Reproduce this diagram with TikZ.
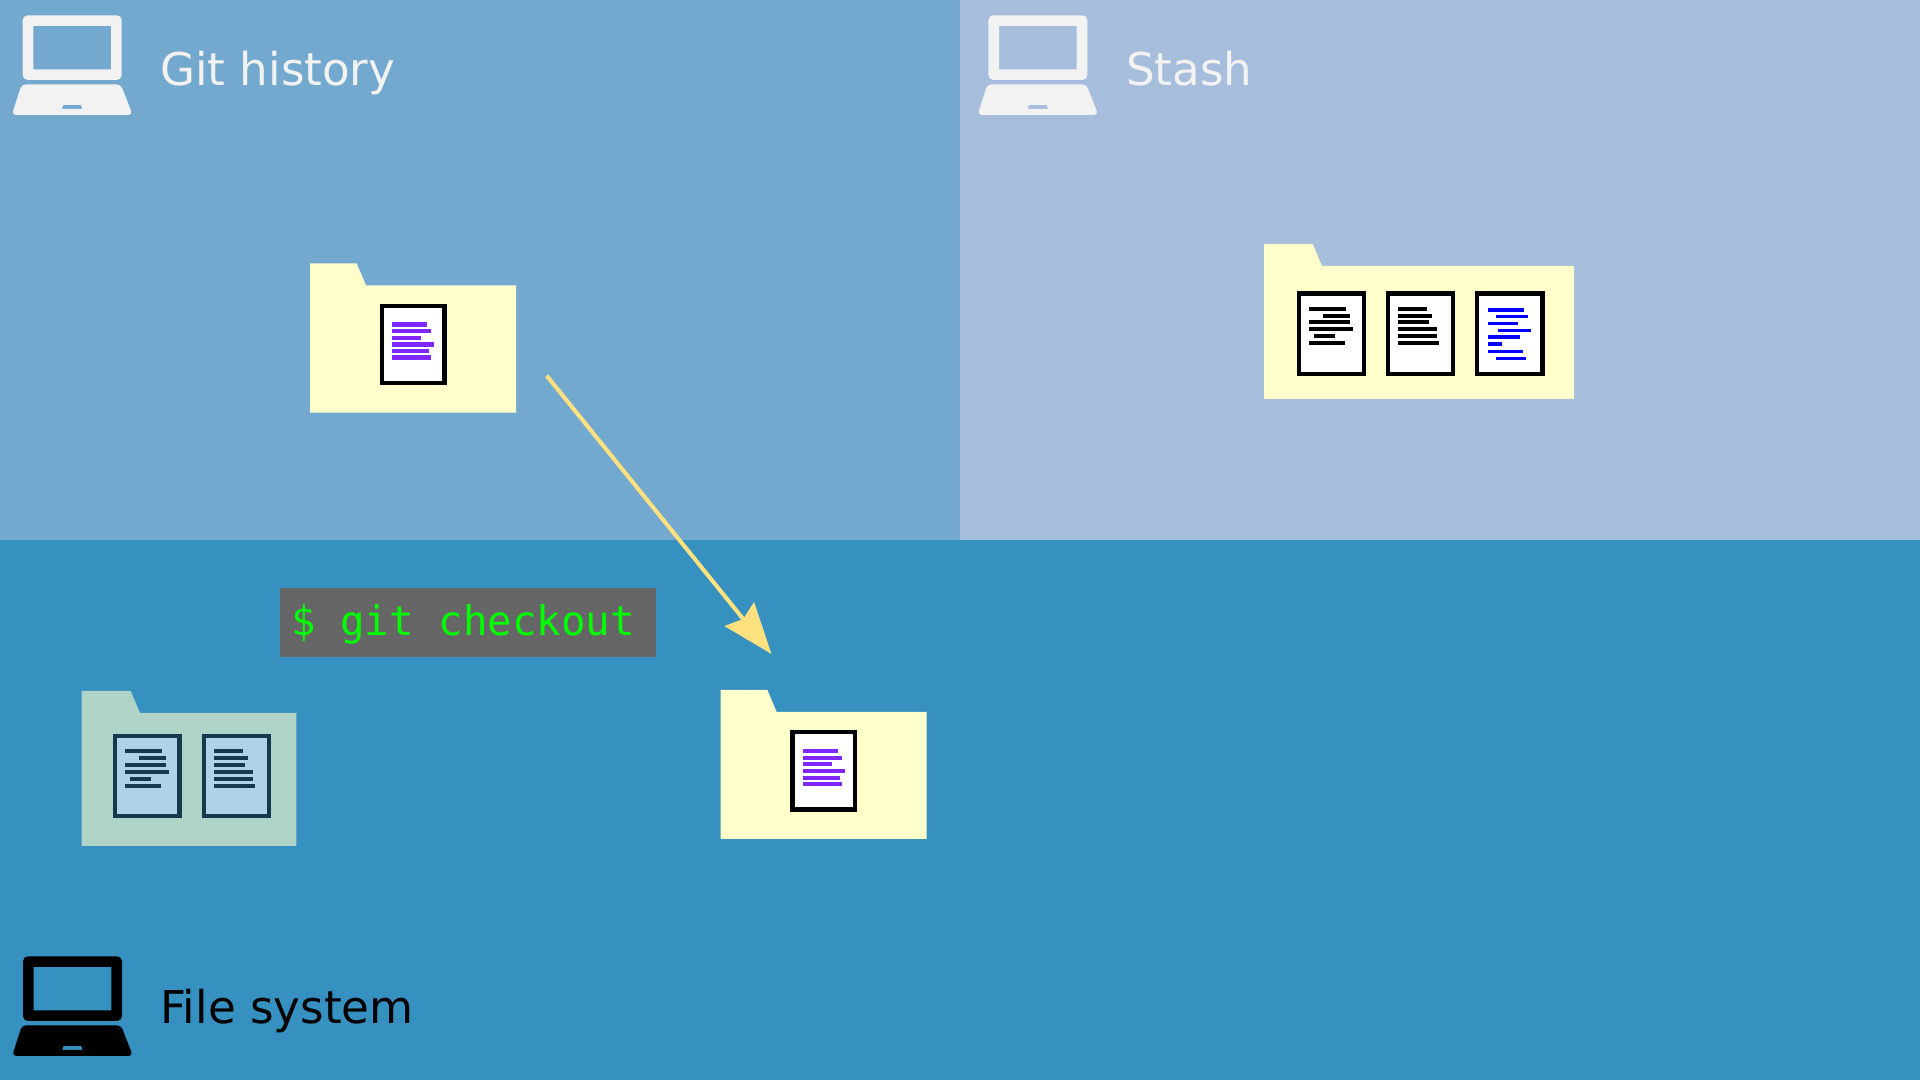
\documentclass[tikz,border=0pt]{standalone}
\usepackage{fontspec}
\setmainfont{DejaVu Sans}
\setmonofont{DejaVu Sans Mono}
\usetikzlibrary{arrows.meta,positioning}
\definecolor{historyBlue}{HTML}{74A9CF}
\definecolor{stashBlue}{HTML}{A6BDDB}
\definecolor{fileBlue}{HTML}{3690C0}
\definecolor{folderYellow}{HTML}{FFFFCC}
\definecolor{folderFaded}{RGB}{176,211,199}
\definecolor{paperFaded}{RGB}{175,211,230}
\definecolor{inkFaded}{RGB}{22,58,77}
\definecolor{inkPurple}{RGB}{127,39,255}
\definecolor{laptopGray}{HTML}{F2F2F2}
\definecolor{arrowYellow}{HTML}{FFE17F}
\definecolor{promptGray}{HTML}{666666}
\definecolor{promptGreen}{HTML}{00FF00}
\tikzset{
  paneltitle/.style={anchor=base west, inner sep=0pt, font=\fontsize{12.85pt}{15pt}\selectfont},
  promptbox/.style={anchor=west, fill=promptGray, text=promptGreen, inner ysep=0pt, inner xsep=1.1mm,
    text width=3.54cm, text height=0.36cm, text depth=0.1cm, minimum height=0.685cm,
    font=\fontsize{11.6pt}{13pt}\selectfont\ttfamily},
  checkoutarrow/.style={draw=arrowYellow, line width=1.15pt,
    -{Stealth[length=5.1mm,width=3.75mm,inset=0.6mm,fill=arrowYellow]}},
}
% laptop: #1 = x shift, #2 = y shift, #3 = colour
\newcommand{\laptopicon}[3]{
  \begin{scope}[shift={(#1,#2)}]
    \fill[#3, even odd rule] [rounded corners=1.4pt] (22.7,15.3) -- (121.7,15.3) -- (121.7,80) -- (22.7,80) -- cycle
      [sharp corners] (33.3,26) rectangle (111,69.3);
    \fill[#3, even odd rule] [rounded corners=1.2pt] (21.7,84.3) -- (120.7,84.3) -- (132.6,115) -- (11.8,115) -- cycle
      [sharp corners] (63.3,105) -- (81,105) -- (82.3,109) -- (61.7,109) -- cycle;
  \end{scope}
}
% folder: #1,#2 = corner, #3,#4 = other corner, #5 = tab width, #6 = colour
\newcommand{\folderbox}[6]{
  \fill[#6] (#1,#2) -- ({#1+#5},#2) -- ({#1+#5+9.3},{#2+22}) -- (#3,{#2+22}) -- (#3,#4) -- (#1,#4) -- cycle;
}
% sheet: #1,#2 = corner, #3,#4 = size, #5 = paper, #6 = frame, #7 = rule colour, #8 = rule width, #9 = rules
\newcommand{\docsheet}[9]{
  \begin{scope}[shift={(#1,#2)}]
    \draw[#6, fill=#5, line width=1.22pt] (2.25,2.25) rectangle ({#3-2.25},{#4-2.25});
    \foreach \ly/\lstart/\lend in #9 {
      \draw[#7, line width=#8] (\lstart,\ly) -- (\lend,\ly);
    }
  \end{scope}
}
\newcommand{\rulesplain}{17.3/12.7/49.3,24.3/26.3/53.3,31/12.7/53.3,38/12.7/56.3,44.7/17/38.3,51.7/12/48}
\newcommand{\rulesflush}{17.3/12.3/41,24.3/12.3/46,31/12.3/42.7,38/12.3/51,44.7/12.3/51,51.7/12.3/53}
\newcommand{\rulesblue}{18.7/12.7/49.3,25.3/21/53.3,32/12.7/43,39/22.7/56.3,45.7/12.7/44.7,52.7/12.7/27.3,60/12.7/48,67/21/51}
\newcommand{\rulespurple}{21/12.7/47.7,27.7/12.7/51.7,34.3/12.7/41.3,41/12.7/54.3,47.7/12.7/49.3,54/12.7/51.7}
\begin{document}
\begin{tikzpicture}[x=0.01cm,y=-0.01cm]
\useasboundingbox (0,0) rectangle (1920,1080);

% panels
\fill[historyBlue] (0,0) rectangle (960,540);
\fill[stashBlue] (960,0) rectangle (1920,540);
\fill[fileBlue] (0,540) rectangle (1920,1080);

% laptops and titles
\laptopicon{0}{0}{laptopGray}
\laptopicon{965.7}{0}{laptopGray}
\laptopicon{0.3}{941}{black}
\node[paneltitle, text=laptopGray] (historytitle) at (159.5,86) {Git history};
\node[paneltitle, text=laptopGray] (stashtitle) at (1125.5,86) {Stash};
\node[paneltitle, text=black] (filetitle) at (159.5,1023.5) {File system};

% git history
\folderbox{310}{263.3}{516}{412.7}{46.7}{folderYellow}
\docsheet{379.6}{303.5}{67.1}{81.8}{white}{black}{inkPurple}{1.15pt}{\rulespurple}

% stash
\folderbox{1264}{244}{1574}{399}{48.7}{folderYellow}
\docsheet{1296.7}{291.3}{69.3}{84.7}{white}{black}{black}{1.15pt}{\rulesplain}
\docsheet{1386}{291.3}{69.3}{84.7}{white}{black}{black}{1.15pt}{\rulesflush}
\docsheet{1475}{291.3}{69.7}{84.7}{white}{black}{blue}{0.9pt}{\rulesblue}

% file system
\folderbox{81.7}{691}{296.3}{846}{49}{folderFaded}
\docsheet{112.5}{734}{69.2}{84.3}{paperFaded}{inkFaded}{inkFaded}{1.15pt}{\rulesplain}
\docsheet{202}{734}{69.3}{84.3}{paperFaded}{inkFaded}{inkFaded}{1.15pt}{\rulesflush}

\folderbox{720.7}{690}{926.7}{839}{46.7}{folderYellow}
\docsheet{790.3}{730}{67.1}{81.8}{white}{black}{inkPurple}{1.15pt}{\rulespurple}

\node[promptbox] (checkoutprompt) at (279.5,622.3) {\spaceskip=0.602em\relax\$ git checkout};

\coordinate (checkoutfrom) at (546.7,375.7);
\coordinate (checkoutto) at (771.5,654);
\draw[checkoutarrow] (checkoutfrom) -- (checkoutto);
\end{tikzpicture}
\end{document}
